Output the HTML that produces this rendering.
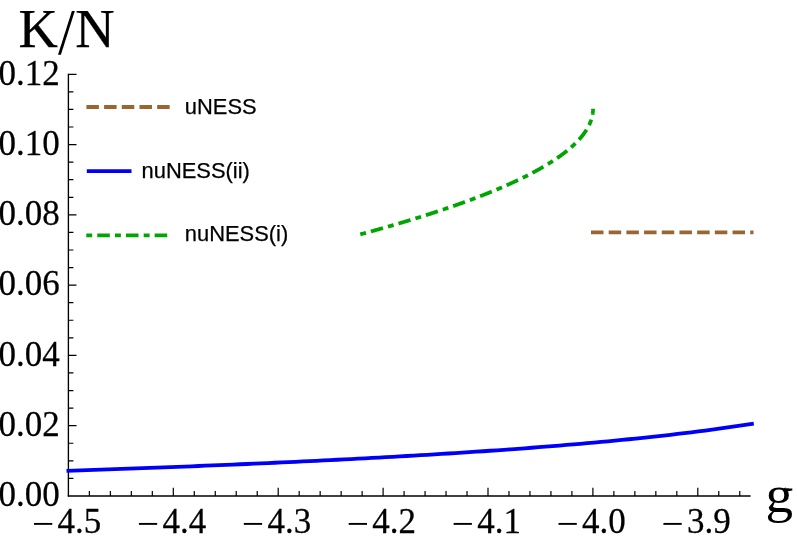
<!DOCTYPE html>
<html><head><meta charset="utf-8"><title>plot</title>
<style>html,body{margin:0;padding:0;background:#fff;}body{width:797px;height:543px;position:relative;overflow:hidden;font-family:"Liberation Sans",sans-serif;}</style>
</head><body>
<svg width="797" height="543" viewBox="0 0 797 543" style="position:absolute;left:0;top:0;will-change:transform">
<g stroke="#000" fill="none" stroke-linecap="butt">
<path stroke-width="1.35" d="M68.40 73.69 V496.55"/>
<path stroke-width="1.35" d="M67.80 495.95 H750.60"/>
<path stroke-width="1.2" d="M68.40 478.38h5.0M68.40 460.81h5.0M68.40 443.24h5.0M68.40 425.67h8.1M68.40 408.11h5.0M68.40 390.54h5.0M68.40 372.97h5.0M68.40 355.40h8.1M68.40 337.83h5.0M68.40 320.26h5.0M68.40 302.69h5.0M68.40 285.12h8.1M68.40 267.55h5.0M68.40 249.98h5.0M68.40 232.42h5.0M68.40 214.85h8.1M68.40 197.28h5.0M68.40 179.71h5.0M68.40 162.14h5.0M68.40 144.57h8.1M68.40 127.00h5.0M68.40 109.43h5.0M68.40 91.86h5.0M68.40 74.29h8.1M89.38 495.95v-5.0M110.36 495.95v-5.0M131.34 495.95v-5.0M152.32 495.95v-5.0M173.30 495.95v-8.1M194.28 495.95v-5.0M215.26 495.95v-5.0M236.24 495.95v-5.0M257.22 495.95v-5.0M278.20 495.95v-8.1M299.18 495.95v-5.0M320.16 495.95v-5.0M341.14 495.95v-5.0M362.12 495.95v-5.0M383.10 495.95v-8.1M404.08 495.95v-5.0M425.06 495.95v-5.0M446.04 495.95v-5.0M467.02 495.95v-5.0M488.00 495.95v-8.1M508.98 495.95v-5.0M529.96 495.95v-5.0M550.94 495.95v-5.0M571.92 495.95v-5.0M592.90 495.95v-8.1M613.88 495.95v-5.0M634.86 495.95v-5.0M655.84 495.95v-5.0M676.82 495.95v-5.0M697.80 495.95v-8.1M718.78 495.95v-5.0M739.76 495.95v-5.0"/>
</g>
<path d="M360.30 234.34L361.85 233.93L363.39 233.51L364.93 233.09L366.46 232.67L367.99 232.25L369.51 231.83L371.03 231.42L372.55 231.00L374.05 230.58L375.55 230.16L377.05 229.74L378.54 229.32L380.03 228.90L381.51 228.49L382.99 228.07L384.46 227.65L385.93 227.23L387.39 226.81L388.84 226.39L390.29 225.97L391.74 225.56L393.18 225.14L394.61 224.72L396.04 224.30L397.47 223.88L398.89 223.46L400.30 223.05L401.71 222.63L403.11 222.21L404.51 221.79L405.91 221.37L407.30 220.95L408.68 220.53L410.06 220.12L411.43 219.70L412.80 219.28L414.16 218.86L415.52 218.44L416.87 218.02L418.22 217.61L419.56 217.19L420.90 216.77L422.23 216.35L423.55 215.93L424.87 215.51L426.19 215.09L427.50 214.68L428.81 214.26L430.11 213.84L431.40 213.42L432.69 213.00L433.98 212.58L435.26 212.17L436.53 211.75L437.80 211.33L439.07 210.91L440.33 210.49L441.58 210.07L442.83 209.65L444.07 209.24L445.31 208.82L446.54 208.40L447.77 207.98L448.99 207.56L450.21 207.14L451.43 206.72L452.63 206.31L453.84 205.89L455.03 205.47L456.22 205.05L457.41 204.63L458.59 204.21L459.77 203.80L460.94 203.38L462.11 202.96L463.27 202.54L464.42 202.12L465.57 201.70L466.72 201.28L467.86 200.87L468.99 200.45L470.12 200.03L471.25 199.61L472.37 199.19L473.48 198.77L474.59 198.36L475.70 197.94L476.79 197.52L477.89 197.10L478.98 196.68L480.06 196.26L481.14 195.84L482.21 195.43L483.28 195.01L484.34 194.59L485.40 194.17L486.45 193.75L487.50 193.33L488.54 192.91L489.58 192.50L490.61 192.08L491.64 191.66L492.66 191.24L493.67 190.82L494.68 190.40L495.69 189.99L496.69 189.57L497.69 189.15L498.68 188.73L499.66 188.31L500.64 187.89L501.62 187.47L502.59 187.06L503.55 186.64L504.51 186.22L505.46 185.80L506.41 185.38L507.36 184.96L508.29 184.55L509.23 184.13L510.16 183.71L511.08 183.29L512.00 182.87L512.91 182.45L513.82 182.03L514.72 181.62L515.62 181.20L516.51 180.78L517.40 180.36L518.28 179.94L519.15 179.52L520.03 179.10L520.89 178.69L521.75 178.27L522.61 177.85L523.46 177.43L524.30 177.01L525.14 176.59L525.98 176.18L526.81 175.76L527.63 175.34L528.45 174.92L529.27 174.50L530.08 174.08L530.88 173.66L531.68 173.25L532.47 172.83L533.26 172.41L534.05 171.99L534.83 171.57L535.60 171.15L536.37 170.74L537.13 170.32L537.89 169.90L538.64 169.48L539.39 169.06L540.13 168.64L540.86 168.22L541.60 167.81L542.32 167.39L543.04 166.97L543.76 166.55L544.47 166.13L545.18 165.71L545.88 165.30L546.57 164.88L547.26 164.46L547.95 164.04L548.63 163.62L549.30 163.20L549.97 162.78L550.64 162.37L551.30 161.95L551.95 161.53L552.60 161.11L553.24 160.69L553.88 160.27L554.52 159.85L555.14 159.44L555.77 159.02L556.39 158.60L557.00 158.18L557.61 157.76L558.21 157.34L558.81 156.93L559.40 156.51L559.99 156.09L560.57 155.67L561.14 155.25L561.71 154.83L562.28 154.41L562.84 154.00L563.40 153.58L563.95 153.16L564.49 152.74L565.03 152.32L565.57 151.90L566.10 151.49L566.62 151.07L567.14 150.65L567.66 150.23L568.17 149.81L568.67 149.39L569.17 148.97L569.67 148.56L570.15 148.14L570.64 147.72L571.12 147.30L571.59 146.88L572.06 146.46L572.52 146.04L572.98 145.63L573.43 145.21L573.88 144.79L574.32 144.37L574.76 143.95L575.19 143.53L575.61 143.12L576.04 142.70L576.45 142.28L576.86 141.86L577.27 141.44L577.67 141.02L578.07 140.60L578.46 140.19L578.84 139.77L579.22 139.35L579.60 138.93L579.97 138.51L580.33 138.09L580.69 137.68L581.04 137.26L581.39 136.84L581.74 136.42L582.08 136.00L582.41 135.58L582.74 135.16L583.06 134.75L583.38 134.33L583.69 133.91L584.00 133.49L584.30 133.07L584.60 132.65L584.89 132.23L585.18 131.82L585.46 131.40L585.74 130.98L586.01 130.56L586.27 130.14L586.54 129.72L586.79 129.31L587.04 128.89L587.29 128.47L587.53 128.05L587.76 127.63L587.99 127.21L588.22 126.79L588.44 126.38L588.65 125.96L588.86 125.54L589.07 125.12L589.27 124.70L589.46 124.28L589.65 123.87L589.83 123.45L590.01 123.03L590.18 122.61L590.35 122.19L590.52 121.77L590.67 121.35L590.83 120.94L590.97 120.52L591.12 120.10L591.25 119.68L591.38 119.26L591.51 118.84L591.63 118.43L591.75 118.01L591.86 117.59L591.97 117.17L592.07 116.75L592.16 116.33L592.25 115.91L592.34 115.50L592.42 115.08L592.49 114.66L592.56 114.24L592.63 113.82L592.69 113.40L592.74 112.98L592.79 112.57L592.83 112.15L592.87 111.73L592.91 111.31L592.94 110.89L592.96 110.47L592.98 110.06L592.99 109.64L593.00 109.22L593.00 108.80" fill="none" stroke="#00a600" stroke-width="3.8" stroke-dasharray="5.88 5.08 12.56 5.18"/>
<path d="M591.0 232.4H753.5" fill="none" stroke="#996633" stroke-width="3.8" stroke-dasharray="12.5 5.19"/>
<path d="M66.50 470.82L73.44 470.59L80.38 470.35L87.33 470.11L94.27 469.88L101.21 469.63L108.15 469.39L115.10 469.15L122.04 468.90L128.98 468.65L135.92 468.39L142.87 468.14L149.81 467.88L156.75 467.62L163.69 467.36L170.64 467.09L177.58 466.82L184.52 466.55L191.46 466.28L198.41 466.00L205.35 465.72L212.29 465.44L219.23 465.15L226.18 464.86L233.12 464.57L240.06 464.27L247.00 463.98L253.95 463.67L260.89 463.37L267.83 463.06L274.77 462.75L281.72 462.43L288.66 462.11L295.60 461.79L302.54 461.46L309.48 461.13L316.43 460.79L323.37 460.45L330.31 460.11L337.25 459.76L344.20 459.41L351.14 459.05L358.08 458.69L365.02 458.32L371.97 457.95L378.91 457.57L385.85 457.19L392.79 456.81L399.74 456.41L406.68 456.02L413.62 455.61L420.56 455.20L427.51 454.79L434.45 454.37L441.39 453.94L448.33 453.51L455.28 453.07L462.22 452.62L469.16 452.17L476.10 451.71L483.05 451.24L489.99 450.76L496.93 450.28L503.87 449.79L510.82 449.29L517.76 448.78L524.70 448.27L531.64 447.74L538.58 447.21L545.53 446.66L552.47 446.11L559.41 445.54L566.35 444.97L573.30 444.38L580.24 443.79L587.18 443.18L594.12 442.56L601.07 441.92L608.01 441.28L614.95 440.62L621.89 439.94L628.84 439.25L635.78 438.55L642.72 437.83L649.66 437.09L656.61 436.34L663.55 435.57L670.49 434.78L677.43 433.97L684.38 433.15L691.32 432.30L698.26 431.43L705.20 430.53L712.15 429.61L719.09 428.67L726.03 427.70L732.97 426.70L739.92 425.67L746.86 424.61L753.80 423.51" fill="none" stroke="#0000fa" stroke-width="3.8"/>
<path d="M86.4 107.0H169.7" fill="none" stroke="#996633" stroke-width="3.8" stroke-dasharray="12.5 5.19"/>
<path d="M86.8 171.2H131.5" fill="none" stroke="#0000fa" stroke-width="3.8"/>
<path d="M86.3 235.3H167.3" fill="none" stroke="#00a600" stroke-width="3.8" stroke-dasharray="5.88 5.08 12.56 5.18"/>
<g font-family="Liberation Serif, serif" fill="#000" stroke="#000" stroke-width="0.25">
<text x="18.38" y="46.9" font-size="54.5">K</text>
<text x="75.33" y="46.9" font-size="54.5">N</text>
<path d="M71.9 11.0H74.8L60.9 54.8H58.0Z" stroke="none"/>
<clipPath id="gc"><path d="M760 487H785.5V488.6H797V543H760Z"/></clipPath>
<g clip-path="url(#gc)" stroke="none"><text transform="translate(765.6 512.0) scale(1.06 1)" font-size="52">g</text></g>
<path d="M785.5 488.6H792.3V490.5L786.5 491.5Z" stroke="none"/>
<text transform="translate(59.8 506.25) scale(1 1.02)" font-size="35" text-anchor="end">0.00</text>
<text transform="translate(59.8 435.97) scale(1 1.02)" font-size="35" text-anchor="end">0.02</text>
<text transform="translate(59.8 365.70) scale(1 1.02)" font-size="35" text-anchor="end">0.04</text>
<text transform="translate(59.8 295.42) scale(1 1.02)" font-size="35" text-anchor="end">0.06</text>
<text transform="translate(59.8 225.15) scale(1 1.02)" font-size="35" text-anchor="end">0.08</text>
<text transform="translate(59.8 154.87) scale(1 1.02)" font-size="35" text-anchor="end">0.10</text>
<text transform="translate(59.8 84.59) scale(1 1.02)" font-size="35" text-anchor="end">0.12</text>
<text transform="translate(57.60 532.9) scale(1 1.02)" font-size="35">4.5</text>
<path d="M34.00 523.9h18.3" stroke-width="1.9" fill="none"/>
<text transform="translate(162.50 532.9) scale(1 1.02)" font-size="35">4.4</text>
<path d="M138.90 523.9h18.3" stroke-width="1.9" fill="none"/>
<text transform="translate(267.40 532.9) scale(1 1.02)" font-size="35">4.3</text>
<path d="M243.80 523.9h18.3" stroke-width="1.9" fill="none"/>
<text transform="translate(372.30 532.9) scale(1 1.02)" font-size="35">4.2</text>
<path d="M348.70 523.9h18.3" stroke-width="1.9" fill="none"/>
<text transform="translate(477.20 532.9) scale(1 1.02)" font-size="35">4.1</text>
<path d="M453.60 523.9h18.3" stroke-width="1.9" fill="none"/>
<text transform="translate(582.10 532.9) scale(1 1.02)" font-size="35">4.0</text>
<path d="M558.50 523.9h18.3" stroke-width="1.9" fill="none"/>
<text transform="translate(687.00 532.9) scale(1 1.02)" font-size="35">3.9</text>
<path d="M663.40 523.9h18.3" stroke-width="1.9" fill="none"/>
</g>
<g font-family="Liberation Sans, sans-serif" fill="#000" font-size="21.9" stroke="#000" stroke-width="0.25">
<text x="184.8" y="113.5">uNESS</text>
<text x="141.6" y="177.5">nuNESS(ii)</text>
<text x="184.8" y="241.3">nuNESS(i)</text>
</g>
</svg>
</body></html>
